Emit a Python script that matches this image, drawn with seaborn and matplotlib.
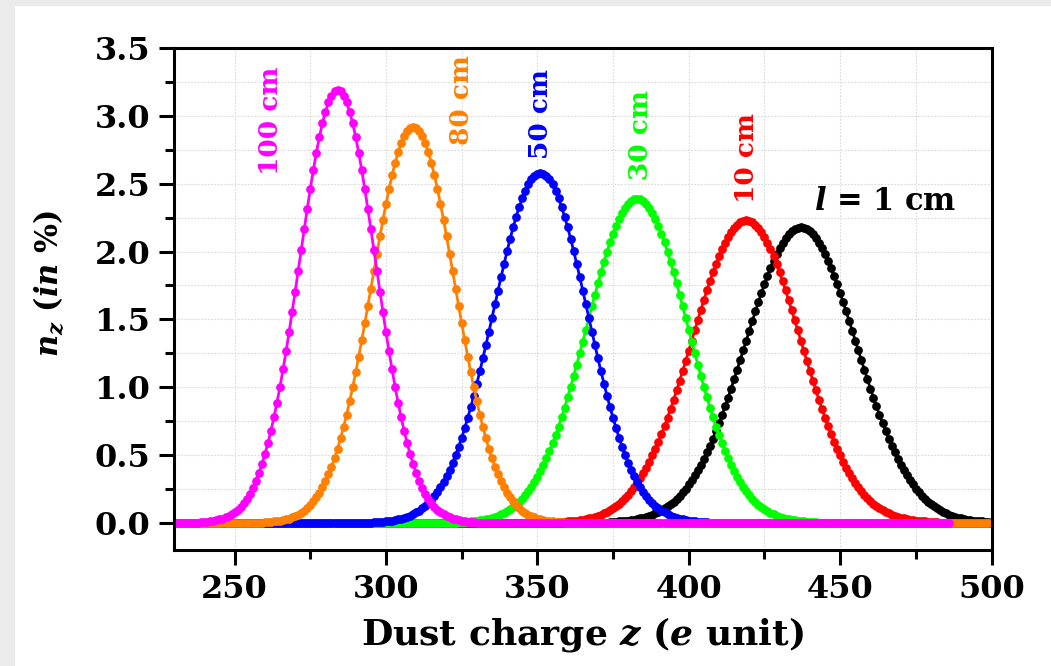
import numpy as np
import pandas as pd
import matplotlib
matplotlib.use("Agg")
import matplotlib.pyplot as plt
import seaborn as sns
from matplotlib.patches import Rectangle
from matplotlib.ticker import MultipleLocator, FormatStrFormatter

# charge axis runs from 230 to 500 (e unit); every curve is sampled at integer z
Z_START = 230

# n_z (%) for each column length l.
# each list starts at its first z, outside that the curve sits flat on 0
z0_100cm, z_last_100cm = 239, 486
nz_100cm = [0.005, 0.007, 0.009, 0.011, 0.015, 0.019, 0.025, 0.031, 0.040, 0.050,
            0.063, 0.079, 0.098, 0.120, 0.147, 0.179, 0.216, 0.260, 0.310, 0.367,
            0.432, 0.505, 0.587, 0.678, 0.778, 0.887, 1.005, 1.131, 1.265, 1.406,
            1.553, 1.704, 1.857, 2.012, 2.166, 2.316, 2.462, 2.599, 2.727, 2.843,
            2.945, 3.031, 3.099, 3.149, 3.180, 3.190, 3.180, 3.149, 3.099, 3.031,
            2.945, 2.843, 2.727, 2.599, 2.462, 2.316, 2.166, 2.012, 1.857, 1.704,
            1.553, 1.406, 1.265, 1.131, 1.005, 0.887, 0.778, 0.678, 0.587, 0.505,
            0.432, 0.367, 0.310, 0.260, 0.216, 0.179, 0.147, 0.120, 0.098, 0.079,
            0.063, 0.050, 0.040, 0.031, 0.025, 0.019, 0.015, 0.011, 0.009, 0.007,
            0.005]

z0_80cm, z_last_80cm = 260, 500
nz_80cm = [0.005, 0.006, 0.008, 0.010, 0.013, 0.016, 0.021, 0.026, 0.032, 0.040,
           0.050, 0.061, 0.075, 0.091, 0.110, 0.132, 0.158, 0.188, 0.222, 0.262,
           0.307, 0.357, 0.414, 0.477, 0.547, 0.624, 0.708, 0.798, 0.896, 1.000,
           1.110, 1.226, 1.346, 1.471, 1.598, 1.727, 1.857, 1.985, 2.112, 2.234,
           2.350, 2.460, 2.561, 2.651, 2.731, 2.797, 2.850, 2.889, 2.912, 2.920,
           2.912, 2.889, 2.850, 2.797, 2.731, 2.651, 2.561, 2.460, 2.350, 2.234,
           2.112, 1.985, 1.857, 1.727, 1.598, 1.471, 1.346, 1.226, 1.110, 1.000,
           0.896, 0.798, 0.708, 0.624, 0.547, 0.477, 0.414, 0.357, 0.307, 0.262,
           0.222, 0.188, 0.158, 0.132, 0.110, 0.091, 0.075, 0.061, 0.050, 0.040,
           0.032, 0.026, 0.021, 0.016, 0.013, 0.010, 0.008, 0.006, 0.005]

z0_50cm, z_last_50cm = 296, 500
nz_50cm = [0.005, 0.006, 0.007, 0.009, 0.011, 0.014, 0.017, 0.021, 0.025, 0.031,
           0.037, 0.045, 0.054, 0.064, 0.077, 0.091, 0.107, 0.126, 0.147, 0.171,
           0.199, 0.230, 0.264, 0.303, 0.346, 0.393, 0.444, 0.500, 0.561, 0.627,
           0.698, 0.773, 0.853, 0.937, 1.026, 1.117, 1.212, 1.310, 1.409, 1.510,
           1.611, 1.712, 1.812, 1.909, 2.003, 2.093, 2.178, 2.257, 2.329, 2.393,
           2.449, 2.495, 2.532, 2.558, 2.575, 2.580, 2.575, 2.558, 2.532, 2.495,
           2.449, 2.393, 2.329, 2.257, 2.178, 2.093, 2.003, 1.909, 1.812, 1.712,
           1.611, 1.510, 1.409, 1.310, 1.212, 1.117, 1.026, 0.937, 0.853, 0.773,
           0.698, 0.627, 0.561, 0.500, 0.444, 0.393, 0.346, 0.303, 0.264, 0.230,
           0.199, 0.171, 0.147, 0.126, 0.107, 0.091, 0.077, 0.064, 0.054, 0.045,
           0.037, 0.031, 0.025, 0.021, 0.017, 0.014, 0.011, 0.009, 0.007, 0.006,
           0.005]

z0_30cm, z_last_30cm = 324, 500
nz_30cm = [0.005, 0.006, 0.007, 0.009, 0.010, 0.013, 0.015, 0.019, 0.022, 0.027,
           0.032, 0.038, 0.045, 0.054, 0.063, 0.074, 0.086, 0.101, 0.117, 0.135,
           0.156, 0.179, 0.205, 0.233, 0.265, 0.300, 0.338, 0.380, 0.426, 0.475,
           0.528, 0.585, 0.646, 0.710, 0.778, 0.850, 0.925, 1.002, 1.083, 1.166,
           1.250, 1.336, 1.423, 1.509, 1.596, 1.681, 1.765, 1.846, 1.923, 1.997,
           2.067, 2.131, 2.189, 2.240, 2.285, 2.322, 2.352, 2.373, 2.386, 2.390,
           2.386, 2.373, 2.352, 2.322, 2.285, 2.240, 2.189, 2.131, 2.067, 1.997,
           1.923, 1.846, 1.765, 1.681, 1.596, 1.509, 1.423, 1.336, 1.250, 1.166,
           1.083, 1.002, 0.925, 0.850, 0.778, 0.710, 0.646, 0.585, 0.528, 0.475,
           0.426, 0.380, 0.338, 0.300, 0.265, 0.233, 0.205, 0.179, 0.156, 0.135,
           0.117, 0.101, 0.086, 0.074, 0.063, 0.054, 0.045, 0.038, 0.032, 0.027,
           0.022, 0.019, 0.015, 0.013, 0.010, 0.009, 0.007, 0.006, 0.005]

z0_10cm, z_last_10cm = 356, 500
nz_10cm = [0.005, 0.005, 0.007, 0.008, 0.010, 0.012, 0.014, 0.017, 0.020, 0.023,
           0.028, 0.033, 0.038, 0.045, 0.052, 0.061, 0.071, 0.082, 0.094, 0.108,
           0.124, 0.142, 0.161, 0.183, 0.207, 0.234, 0.263, 0.294, 0.329, 0.366,
           0.407, 0.450, 0.497, 0.546, 0.599, 0.655, 0.714, 0.776, 0.840, 0.907,
           0.976, 1.047, 1.120, 1.194, 1.269, 1.344, 1.420, 1.495, 1.569, 1.642,
           1.713, 1.781, 1.846, 1.907, 1.965, 2.018, 2.066, 2.108, 2.145, 2.175,
           2.199, 2.216, 2.227, 2.230, 2.227, 2.216, 2.199, 2.175, 2.145, 2.108,
           2.066, 2.018, 1.965, 1.907, 1.846, 1.781, 1.713, 1.642, 1.569, 1.495,
           1.420, 1.344, 1.269, 1.194, 1.120, 1.047, 0.976, 0.907, 0.840, 0.776,
           0.714, 0.655, 0.599, 0.546, 0.497, 0.450, 0.407, 0.366, 0.329, 0.294,
           0.263, 0.234, 0.207, 0.183, 0.161, 0.142, 0.124, 0.108, 0.094, 0.082,
           0.071, 0.061, 0.052, 0.045, 0.038, 0.033, 0.028, 0.023, 0.020, 0.017,
           0.014, 0.012, 0.010, 0.008, 0.007, 0.005, 0.005]

z0_1cm, z_last_1cm = 374, 500
nz_1cm = [0.006, 0.007, 0.008, 0.010, 0.012, 0.014, 0.017, 0.020, 0.024, 0.028,
          0.033, 0.039, 0.045, 0.052, 0.061, 0.070, 0.081, 0.093, 0.106, 0.121,
          0.138, 0.157, 0.177, 0.200, 0.225, 0.253, 0.283, 0.315, 0.350, 0.388,
          0.429, 0.473, 0.519, 0.569, 0.621, 0.677, 0.734, 0.795, 0.858, 0.923,
          0.990, 1.059, 1.129, 1.200, 1.272, 1.344, 1.416, 1.488, 1.558, 1.627,
          1.694, 1.758, 1.820, 1.878, 1.932, 1.981, 2.026, 2.066, 2.100, 2.129,
          2.151, 2.167, 2.177, 2.180, 2.177, 2.167, 2.151, 2.129, 2.100, 2.066,
          2.026, 1.981, 1.932, 1.878, 1.820, 1.758, 1.694, 1.627, 1.558, 1.488,
          1.416, 1.344, 1.272, 1.200, 1.129, 1.059, 0.990, 0.923, 0.858, 0.795,
          0.734, 0.677, 0.621, 0.569, 0.519, 0.473, 0.429, 0.388, 0.350, 0.315,
          0.283, 0.253, 0.225, 0.200, 0.177, 0.157, 0.138, 0.121, 0.106, 0.093,
          0.081, 0.070, 0.061, 0.052, 0.045, 0.039, 0.033, 0.028, 0.024, 0.020,
          0.017, 0.014, 0.012, 0.010, 0.008, 0.007, 0.006]

# label text and where it sits (z, n_z)
label_text = ["100 cm", "80 cm", "50 cm", "30 cm", "10 cm"]
label_z = [262, 325, 351, 384, 419]
label_nz = [2.96, 3.12, 3.01, 2.86, 2.69]


def full_curve(z_first, values, z_last):
    s = pd.Series(values, index=np.arange(z_first, z_first + len(values)))
    return s.reindex(np.arange(Z_START, z_last + 1), fill_value=0.0)


# drawing order matters: later curves lie on top of the flat tails
curves = [
    (full_curve(z0_1cm, nz_1cm, z_last_1cm), "#000000"),
    (full_curve(z0_10cm, nz_10cm, z_last_10cm), "#ff0000"),
    (full_curve(z0_30cm, nz_30cm, z_last_30cm), "#00ff00"),
    (full_curve(z0_50cm, nz_50cm, z_last_50cm), "#0000ff"),
    (full_curve(z0_80cm, nz_80cm, z_last_80cm), "#ff8000"),
    (full_curve(z0_100cm, nz_100cm, z_last_100cm), "#ff00ff"),
]
label_colors = ["#ff00ff", "#ff8000", "#0000ff", "#00ff00", "#ff0000"]

sns.set_theme(style="white")
plt.rcParams["font.family"] = ["DejaVu Serif"]
plt.rcParams["font.weight"] = "bold"
plt.rcParams["mathtext.fontset"] = "custom"
plt.rcParams["mathtext.rm"] = "DejaVu Serif:bold"
plt.rcParams["mathtext.it"] = "DejaVu Serif:italic:bold"
plt.rcParams["mathtext.bf"] = "DejaVu Serif:bold"
for key in ["text.color", "axes.labelcolor", "xtick.color", "ytick.color"]:
    plt.rcParams[key] = "black"

fig = plt.figure(figsize=(10.51, 6.66), dpi=100)
# thin grey frame of the screenshot
fig.patches.append(Rectangle((0, 1 - 5 / 666), 1, 5 / 666, transform=fig.transFigure,
                             color="#ebebeb", zorder=0))
fig.patches.append(Rectangle((0, 0), 14 / 1051, 1, transform=fig.transFigure,
                             color="#ebebeb", zorder=0))

ax = fig.add_axes([0.1656, 0.1742, 0.7778, 0.7537])

for curve, color in curves:
    sns.lineplot(x=curve.index, y=curve.values, ax=ax, color=color, linewidth=2.0,
                 marker="o", markersize=6.3, markeredgewidth=0)

for txt, zx, ny, c in zip(label_text, label_z, label_nz, label_colors):
    ax.text(zx, ny, txt, rotation=90, ha="center", va="center", color=c,
            fontsize=19, fontweight="bold")
ax.text(465, 2.37, r"$l$ = 1 cm", ha="center", va="center", color="black",
        fontsize=22, fontweight="bold")

ax.set_xlim(230, 500)
ax.set_ylim(-0.2, 3.5)
ax.xaxis.set_major_locator(MultipleLocator(50))
ax.xaxis.set_minor_locator(MultipleLocator(25))
ax.yaxis.set_major_locator(MultipleLocator(0.5))
ax.yaxis.set_minor_locator(MultipleLocator(0.25))
ax.yaxis.set_major_formatter(FormatStrFormatter("%.1f"))

ax.set_axisbelow(True)
ax.grid(which="both", color="#d9d9d9", linestyle=(0, (1.5, 1.5)), linewidth=0.8)

ax.tick_params(which="major", direction="out", length=11, width=2.2, labelsize=23,
               bottom=True, left=True, top=False, right=False, pad=6)
ax.tick_params(which="minor", direction="out", length=6.5, width=2.2,
               bottom=True, left=True, top=False, right=False)
for lab in ax.get_xticklabels() + ax.get_yticklabels():
    lab.set_fontweight("bold")

for sp in ax.spines.values():
    sp.set_visible(True)
    sp.set_linewidth(2.2)
    sp.set_color("black")

ax.set_xlabel(r"Dust charge $z$ ($e$ unit)", fontsize=26, fontweight="bold", va="center")
ax.xaxis.set_label_coords(0.5, -0.169)
ax.set_ylabel(r"$n_z$ ($in$ %)", fontsize=22, fontweight="bold", va="center")
ax.yaxis.set_label_coords(-0.152, 0.53)

fig.savefig("out.png", dpi=100)
